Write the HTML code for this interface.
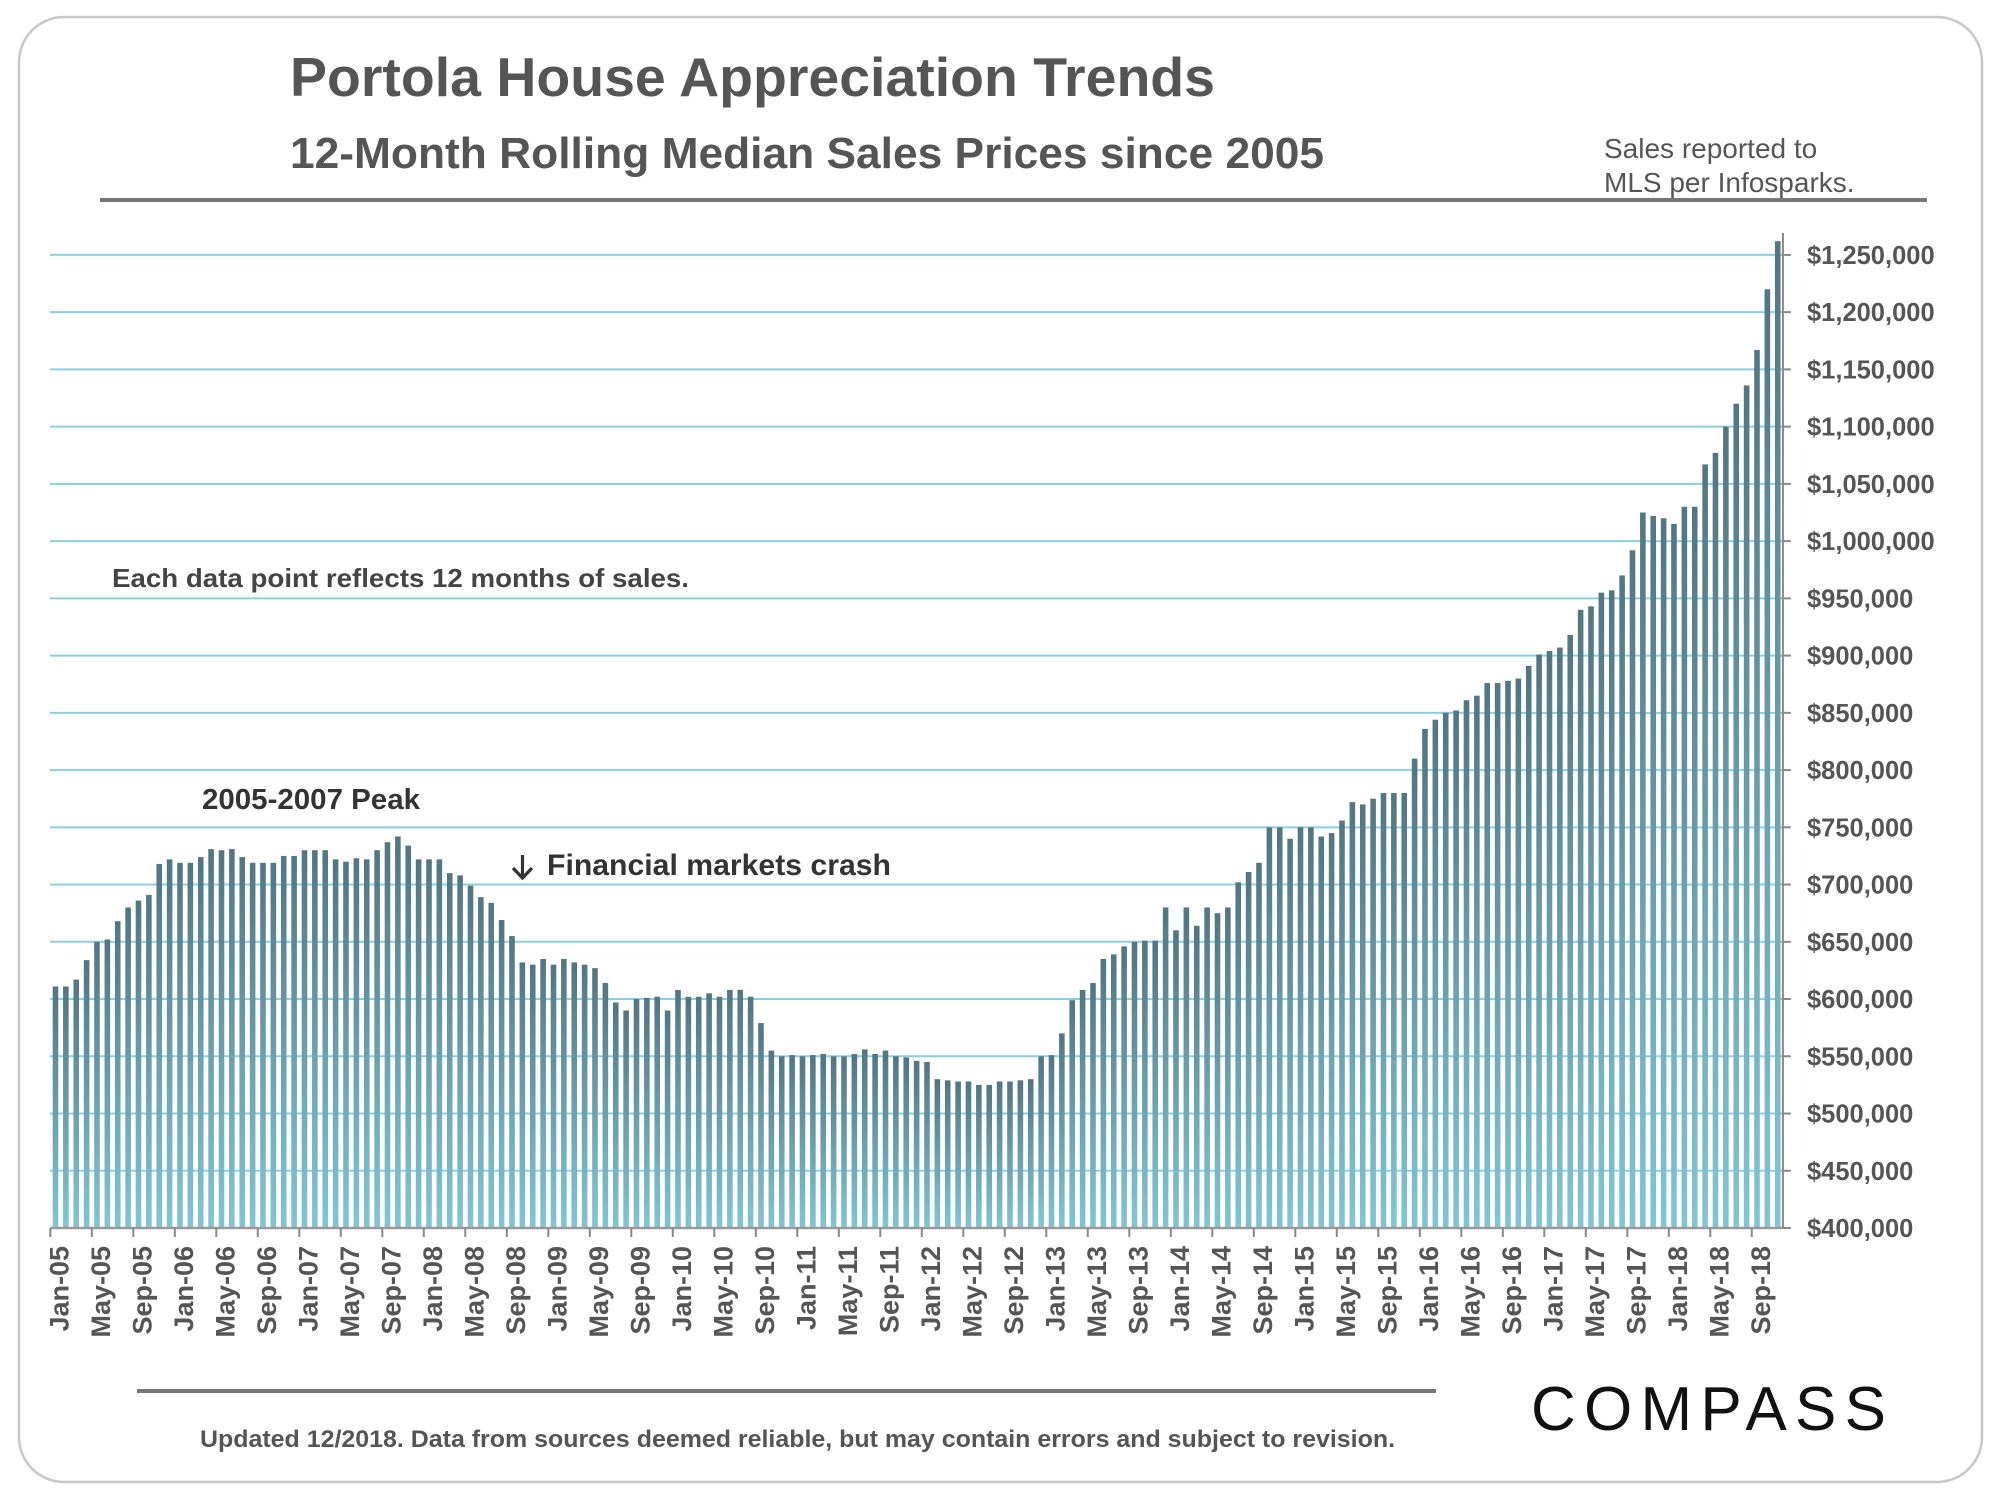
<!DOCTYPE html>
<html><head><meta charset="utf-8"><style>
html,body{margin:0;padding:0;background:#fff;}
svg{display:block;font-family:"Liberation Sans",Arial,sans-serif;}
</style></head><body>
<svg id="chart" width="2000" height="1500" viewBox="0 0 2000 1500">
<defs>
<linearGradient id="barGrad" x1="0" y1="0" x2="0" y2="1">
<stop offset="0" stop-color="#537680"/>
<stop offset="1" stop-color="#82c5d4"/>
</linearGradient>
</defs>
<rect x="19" y="17" width="1963" height="1465" rx="45" ry="45" fill="#fff" stroke="#c8c8c8" stroke-width="2.5"/>
<text x="290" y="96" font-size="55" font-weight="bold" fill="#555" textLength="925" lengthAdjust="spacingAndGlyphs">Portola House Appreciation Trends</text>
<text x="290" y="168" font-size="44" font-weight="bold" fill="#555" textLength="1034" lengthAdjust="spacingAndGlyphs">12-Month Rolling Median Sales Prices since 2005</text>
<text x="1604" y="158" font-size="28" fill="#555">Sales reported to</text>
<text x="1604" y="192" font-size="28" fill="#555">MLS per Infosparks.</text>
<rect x="100" y="198" width="1827" height="4" fill="#777"/>
<g id="grid"></g>
<g id="bars"></g>
<g id="axes"></g>
<text x="112" y="587" font-size="26" font-weight="bold" fill="#444" textLength="577" lengthAdjust="spacingAndGlyphs">Each data point reflects 12 months of sales.</text>
<text x="202" y="809" font-size="29" font-weight="bold" fill="#333" textLength="218" lengthAdjust="spacingAndGlyphs">2005-2007 Peak</text>
<path d="M522.5 855 V877 M513 868 L522.5 878 L532 868" fill="none" stroke="#333" stroke-width="3.2"/>
<text x="547" y="875" font-size="30" font-weight="bold" fill="#333" textLength="344" lengthAdjust="spacingAndGlyphs">Financial markets crash</text>
<rect x="137" y="1389" width="1299" height="4" fill="#777"/>
<text x="200" y="1447" font-size="24" font-weight="bold" fill="#555" textLength="1195" lengthAdjust="spacingAndGlyphs">Updated 12/2018. Data from sources deemed reliable, but may contain errors and subject to revision.</text>
<text x="1531" y="1430" font-size="62" fill="#111" letter-spacing="6" textLength="361" lengthAdjust="spacing">COMPASS</text>
</svg>
<script>
const months = ["Jan","Feb","Mar","Apr","May","Jun","Jul","Aug","Sep","Oct","Nov","Dec"];
const values = [
611,611,617,634,650,652,668,680,686,691,718,722,719,719,724,731,730,731,724,719,719,719,725,725,730,730,730,722,720,723,722,730,737,742,734,722,722,722,710,708,699,689,684,669,655,
632,630,635,630,635,632,630,627,614,597,590,600,601,602,590,608,602,602,605,602,608,608,602,579,555,550,551,550,551,552,550,550,552,556,552,555,550,549,
546,545,530,529,528,528,525,525,528,528,529,530,550,551,570,599,
608,614,635,639,646,650,651,651,680,660,680,664,680,675,680,702,711,719,750,750,740,750,750,742,745,756,772,770,775,780,780,780,810,
836,844,850,852,861,865,876,876,878,880,891,901,904,907,918,940,943,955,957,970,992,1025,1022,1020,1015,1030,1030,1067,1077,1100,1120,1136,1167,1220,1262
];
const yTicks = [400,450,500,550,600,650,700,750,800,850,900,950,1000,1050,1100,1150,1200,1250];
const yTickLabels = ["$400,000","$450,000","$500,000","$550,000","$600,000","$650,000","$700,000","$750,000","$800,000","$850,000","$900,000","$950,000","$1,000,000","$1,050,000","$1,100,000","$1,150,000","$1,200,000","$1,250,000"];

const NS = "http://www.w3.org/2000/svg";
const X0 = 50.3, STEP = 10.375, Y0 = 1228, PX_PER_K = 57.24/50;
function xBoundary(i){ return X0 + i*STEP; }
function xCenter(i){ return X0 + (i+0.5)*STEP; }
function yScale(v){ return Y0 - (v-400)*PX_PER_K; }
function mk(tag, attrs){ const e=document.createElementNS(NS,tag); for(const k in attrs) e.setAttribute(k, attrs[k]); return e; }
const xRight = xBoundary(values.length);

const grid = document.getElementById("grid");
const axes = document.getElementById("axes");
const bars = document.getElementById("bars");

yTicks.forEach((t,i)=>{
  const y = yScale(t);
  if (i>0){
    const l = mk("line",{x1:50,x2:xRight,y1:y,y2:y,stroke:"#8dcfe0","stroke-width":2});
    
    
    grid.appendChild(l);
  }
  const tk = mk("line",{x1:xRight,x2:xRight+8,y1:y,y2:y,stroke:"#888","stroke-width":2});
  
  
  axes.appendChild(tk);
  const tx = mk("text",{x:1807,y:y+9,"font-size":25.5,"font-weight":"bold",fill:"#555"});
  tx.textContent = yTickLabels[i];
  
  
  axes.appendChild(tx);
});

values.forEach((v,i)=>{
  const y = yScale(v);
  const r = mk("rect",{x:xCenter(i)-2.8,y:y,width:5.6,height:Y0-y,fill:"url(#barGrad)"});
  
  
  bars.appendChild(r);
});

const xa = mk("line",{x1:50,x2:xRight,y1:Y0,y2:Y0,stroke:"#999","stroke-width":2.5});


axes.appendChild(xa);
const ya = mk("line",{x1:xRight,x2:xRight,y1:233,y2:Y0,stroke:"#888","stroke-width":2});


axes.appendChild(ya);

for (let i=0;i<values.length;i+=4){
  const xb = xBoundary(i);
  const tk = mk("line",{x1:xb,x2:xb,y1:Y0,y2:Y0+9,stroke:"#888","stroke-width":2});
  
  
  axes.appendChild(tk);
  const yr = String(5 + Math.floor(i/12)).padStart(2,"0");
  const lbl = months[i%12] + "-" + yr;
  const bx = xb + 18, by = 1246;
  const tx = mk("text",{x:bx,y:by,"font-size":27,"font-weight":"bold",fill:"#555","text-anchor":"end",transform:`rotate(-90 ${bx} ${by})`});
  tx.textContent = lbl;
  
  
  axes.appendChild(tx);
}
</script>
</body></html>
